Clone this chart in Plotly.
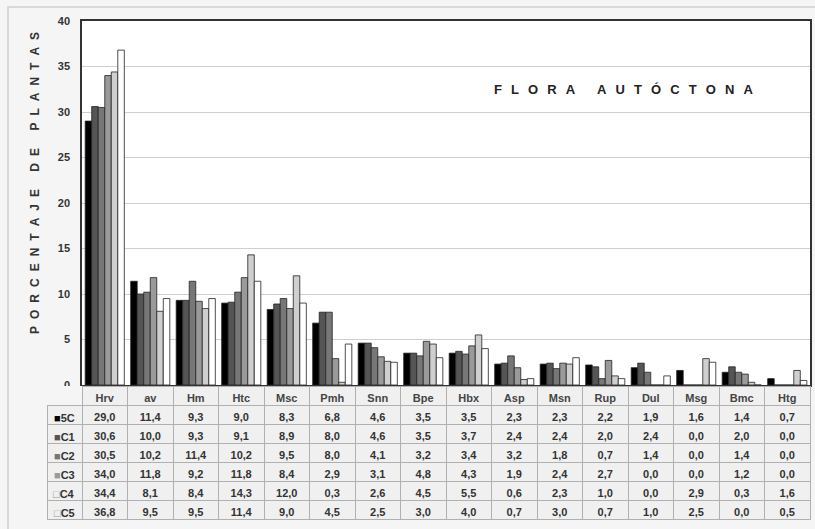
import plotly.graph_objects as go

categories = ["Hrv", "av", "Hm", "Htc", "Msc", "Pmh", "Snn", "Bpe", "Hbx", "Asp",
              "Msn", "Rup", "Dul", "Msg", "Bmc", "Htg"]
series_names = ["5C", "C1", "C2", "C3", "C4", "C5"]
v_5C = [29.0, 11.4, 9.3, 9.0, 8.3, 6.8, 4.6, 3.5, 3.5, 2.3, 2.3, 2.2, 1.9, 1.6, 1.4, 0.7]
v_C1 = [30.6, 10.0, 9.3, 9.1, 8.9, 8.0, 4.6, 3.5, 3.7, 2.4, 2.4, 2.0, 2.4, 0.0, 2.0, 0.0]
v_C2 = [30.5, 10.2, 11.4, 10.2, 9.5, 8.0, 4.1, 3.2, 3.4, 3.2, 1.8, 0.7, 1.4, 0.0, 1.4, 0.0]
v_C3 = [34.0, 11.8, 9.2, 11.8, 8.4, 2.9, 3.1, 4.8, 4.3, 1.9, 2.4, 2.7, 0.0, 0.0, 1.2, 0.0]
v_C4 = [34.4, 8.1, 8.4, 14.3, 12.0, 0.3, 2.6, 4.5, 5.5, 0.6, 2.3, 1.0, 0.0, 2.9, 0.3, 1.6]
v_C5 = [36.8, 9.5, 9.5, 11.4, 9.0, 4.5, 2.5, 3.0, 4.0, 0.7, 3.0, 0.7, 1.0, 2.5, 0.0, 0.5]
all_values = [v_5C, v_C1, v_C2, v_C3, v_C4, v_C5]
colors = ["#000000", "#555555", "#777777", "#9a9a9a", "#cfcfcf", "#ffffff"]
y_ticks = [0, 5, 10, 15, 20, 25, 30, 35, 40]

W, H = 815, 529
px_l, px_r, px_t, px_b = 82, 810, 21, 385
tbl_top, row_h = 386, 19
panel_bg = "#f5f5f5"

fig = go.Figure()
for name, vals, col in zip(series_names, all_values, colors):
    fig.add_trace(go.Bar(
        x=categories, y=vals, name=name,
        marker=dict(color=col, line=dict(color="#222222", width=0.8)),
        xaxis="x", yaxis="y", showlegend=False,
    ))

def fmt(v):
    return f"{v:.1f}".replace(".", ",")

keys = ["■", "■", "■", "■", "□", "□"]
key_cols = ["#000000", "#555555", "#777777", "#9a9a9a", "#9a9a9a", "#9a9a9a"]

header_vals = [""] + categories
cell_cols = [[""] * len(series_names)]
for i in range(len(categories)):
    cell_cols.append([fmt(s[i]) for s in all_values])

n_rows = len(series_names) + 1
col_w = (px_r - px_l) / len(categories)
fig.add_trace(go.Table(
    domain=dict(x=[47 / W, px_r / W],
                y=[1 - (tbl_top + n_rows * row_h + 2) / H, 1 - tbl_top / H]),
    columnwidth=[35] + [col_w] * len(categories),
    header=dict(values=header_vals, height=row_h, align="center",
                fill=dict(color=[panel_bg] + ["#f0f0f0"] * len(categories)),
                line=dict(color=["rgba(0,0,0,0)"] + ["#b0b0b0"] * len(categories), width=1),
                font=dict(family="Arial", size=11, color="#444444", weight="bold")),
    cells=dict(values=cell_cols, height=row_h, align="center",
               fill=dict(color="#f0f0f0"),
               line=dict(color="#b0b0b0", width=1),
               font=dict(family="Arial", size=11, color="#333333", weight="bold")),
))

def spaced(s, sep):
    return sep.join("\u00a0" if ch == " " else ch for ch in s)

annotations = [
    dict(text="<b>" + spaced("FLORA AUTÓCTONA", "\u2002\u2009") + "</b>",
         xref="paper", yref="paper", x=755 / W, y=1 - 89 / H,
         xanchor="right", yanchor="middle", showarrow=False,
         font=dict(family="Arial", size=13, color="#222222")),
    dict(text="<b>" + spaced("PORCENTAJE DE PLANTAS", "\u2002\u200a") + "</b>",
         xref="paper", yref="paper", x=35 / W, y=1 - 183 / H,
         xanchor="center", yanchor="middle", textangle=-90, showarrow=False,
         font=dict(family="Arial", size=12, color="#333333")),
]
for i, (k, kc, n) in enumerate(zip(keys, key_cols, series_names)):
    yc = tbl_top + (i + 1.5) * row_h + 3
    annotations.append(dict(
        text=f"<span style='color:{kc}'>{k}</span><b>{n}</b>",
        xref="paper", yref="paper", x=64 / W, y=1 - yc / H,
        xanchor="center", yanchor="middle", showarrow=False,
        font=dict(family="Arial", size=11, color="#333333")))

fig.update_layout(
    width=W, height=H,
    margin=dict(l=0, r=0, t=0, b=0, pad=0, autoexpand=False),
    paper_bgcolor=panel_bg,
    plot_bgcolor="#ffffff",
    barmode="group", bargap=0.14, bargroupgap=0.0,
    xaxis=dict(domain=[px_l / W, px_r / W], anchor="y", automargin=False,
               showticklabels=False, showline=True, linecolor="#333333",
               linewidth=1.5, mirror=True, ticks="", fixedrange=True),
    yaxis=dict(domain=[1 - px_b / H, 1 - px_t / H], anchor="x", automargin=False,
               range=[0, 40], tickvals=y_ticks, ticks="",
               showgrid=True, gridcolor="#cfcfcf", gridwidth=1.2,
               showline=True, linecolor="#333333", linewidth=1.5, mirror=True,
               tickfont=dict(family="Arial", size=11, color="#333333", weight="bold"),
               ticklabelstandoff=8,
               zeroline=False),
    annotations=annotations,
    shapes=[dict(type="rect", xref="paper", yref="paper",
                 x0=8 / W, x1=1.01, y0=-0.01, y1=1 - 7 / H,
                 line=dict(color="#d0d0d0", width=1.5), layer="below")],
)

fig.write_html("out.html", config={"displayModeBar": False},
               post_script="document.body.style.margin='0';")
